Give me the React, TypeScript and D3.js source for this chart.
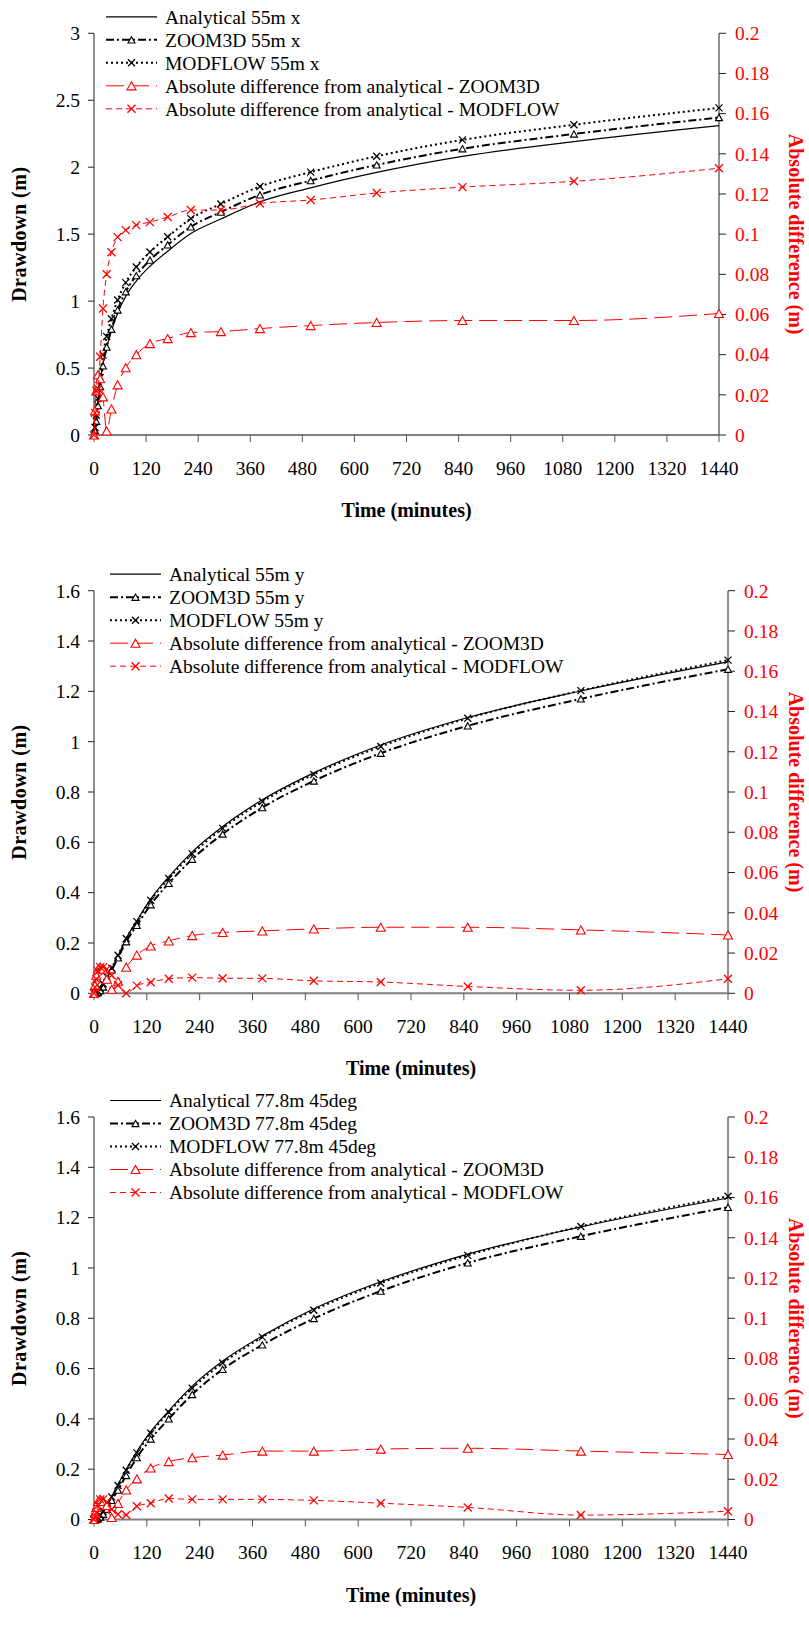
import React from "react";
import * as d3 from "d3";

const TIMES = [0, 2.29, 5.26, 9.12, 14.14, 20.67, 29.15, 40.18, 54.52, 73.16, 97.39, 128.9, 169.8, 223.1, 292.3, 382.3, 499.3, 651.3, 848.9, 1105.8, 1440];
const X_TICKS = [0, 120, 240, 360, 480, 600, 720, 840, 960, 1080, 1200, 1320, 1440];
const RIGHT_TICKS = [0, 0.02, 0.04, 0.06, 0.08, 0.1, 0.12, 0.14, 0.16, 0.18, 0.2];
const LEFT_TICKS_1 = [0, 0.5, 1, 1.5, 2, 2.5, 3];
const LEFT_TICKS_23 = [0, 0.2, 0.4, 0.6, 0.8, 1, 1.2, 1.4, 1.6];

// Chart 1: 55m x
const analytical1 = [0, 0.045, 0.125, 0.25, 0.39, 0.535, 0.655, 0.777, 0.909, 1.036, 1.15, 1.26, 1.372, 1.504, 1.613, 1.741, 1.846, 1.961, 2.081, 2.191, 2.31];
const zoom1 = [0, 0.033, 0.103, 0.22, 0.362, 0.516, 0.657, 0.79, 0.934, 1.07, 1.19, 1.306, 1.42, 1.555, 1.665, 1.794, 1.9, 2.017, 2.138, 2.248, 2.371];
const modflow1 = [0, 0.056, 0.147, 0.273, 0.429, 0.598, 0.735, 0.868, 1.008, 1.138, 1.255, 1.367, 1.48, 1.616, 1.725, 1.856, 1.963, 2.082, 2.204, 2.317, 2.443];
const diffZ1 = [0, 0.012, 0.022, 0.03, 0.028, 0.019, 0.002, 0.013, 0.025, 0.0335, 0.04, 0.0455, 0.048, 0.051, 0.0515, 0.053, 0.0545, 0.056, 0.057, 0.057, 0.0605];
const diffM1 = [0, 0.011, 0.022, 0.023, 0.039, 0.063, 0.08, 0.091, 0.0985, 0.102, 0.1045, 0.106, 0.1085, 0.112, 0.112, 0.1153, 0.117, 0.1205, 0.1234, 0.1263, 0.1328];

// Chart 2: 55m y
const analytical2 = [0, 0.001, 0.004, 0.012, 0.026, 0.044, 0.064, 0.093, 0.147, 0.218, 0.289, 0.3755, 0.463, 0.562, 0.663, 0.769, 0.876, 0.987, 1.096, 1.2015, 1.317];
const zoom2 = [0, 0, 0.001, 0.003, 0.011, 0.025, 0.055, 0.093, 0.141, 0.205, 0.27, 0.352, 0.437, 0.533, 0.633, 0.738, 0.844, 0.954, 1.063, 1.17, 1.288];
const modflow2 = [0, 0.001, 0.003, 0.008, 0.02, 0.038, 0.066, 0.1, 0.151, 0.218, 0.285, 0.37, 0.456, 0.554, 0.6555, 0.762, 0.87, 0.981, 1.093, 1.203, 1.324];
const diffZ2 = [0, 0.004, 0.009, 0.012, 0.013, 0.012, 0.007, 0.002, 0.006, 0.013, 0.019, 0.0235, 0.026, 0.0287, 0.0302, 0.031, 0.032, 0.0328, 0.0328, 0.0315, 0.029];
const diffM2 = [0, 0.003, 0.007, 0.011, 0.013, 0.013, 0.012, 0.009, 0.004, 0, 0.0038, 0.0055, 0.0072, 0.0078, 0.0075, 0.0074, 0.0062, 0.0056, 0.0034, 0.0015, 0.0072];

// Chart 3: 77.8m 45deg
const analytical3 = [0, 0.001, 0.004, 0.01, 0.02, 0.034, 0.058, 0.092, 0.14, 0.2, 0.27, 0.35, 0.432, 0.53, 0.63, 0.73, 0.838, 0.945, 1.055, 1.163, 1.278];
const zoom3 = [0, 0, 0.001, 0.003, 0.01, 0.021, 0.041, 0.076, 0.117, 0.175, 0.246, 0.32, 0.4, 0.497, 0.597, 0.694, 0.799, 0.908, 1.02, 1.126, 1.241];
const modflow3 = [0, 0.001, 0.003, 0.007, 0.017, 0.032, 0.055, 0.09, 0.135, 0.196, 0.265, 0.343, 0.426, 0.522, 0.622, 0.725, 0.832, 0.94, 1.05, 1.165, 1.285];
const diffZ3 = [0, 0.003, 0.006, 0.009, 0.01, 0.009, 0.007, 0.001, 0.008, 0.0147, 0.0202, 0.0256, 0.0288, 0.0307, 0.032, 0.034, 0.034, 0.035, 0.0354, 0.034, 0.0323];
const diffM3 = [0, 0.0014, 0.0035, 0.007, 0.01, 0.01, 0.0086, 0.005, 0.0026, 0.0022, 0.0066, 0.0081, 0.0104, 0.01, 0.01, 0.01, 0.0095, 0.0081, 0.006, 0.0022, 0.0041];

const LABELS_1 = ["Analytical 55m x", "ZOOM3D 55m x", "MODFLOW 55m x"];
const LABELS_2 = ["Analytical 55m y", "ZOOM3D 55m y", "MODFLOW 55m y"];
const LABELS_3 = ["Analytical 77.8m 45deg", "ZOOM3D 77.8m 45deg", "MODFLOW 77.8m 45deg"];
const DIFF_LABELS = ["Absolute difference from analytical - ZOOM3D", "Absolute difference from analytical - MODFLOW"];

const FONT = "'Liberation Serif', 'Times New Roman', serif";

type Style = { color: string; dash: string | null; width: number; marker: "none" | "tri" | "x"; msize: number };
const STYLES: Style[] = [
  { color: "#000", dash: null, width: 1.2, marker: "none", msize: 0 },
  { color: "#000", dash: "8,3,2,3", width: 2, marker: "tri", msize: 7 },
  { color: "#000", dash: "2,3", width: 2, marker: "x", msize: 7 },
  { color: "#ff0000", dash: "18,7", width: 1, marker: "tri", msize: 9 },
  { color: "#ff0000", dash: "6,4", width: 1, marker: "x", msize: 8 },
];

function Marker({ kind, x, y, size, color }: { kind: string; x: number; y: number; size: number; color: string }) {
  if (kind === "tri") {
    const h = size * 0.9;
    const d = `M${x},${y - h / 2}L${x + size / 2},${y + h / 2}L${x - size / 2},${y + h / 2}Z`;
    return <path d={d} fill="#fff" stroke={color} strokeWidth={1.1} />;
  }
  if (kind === "x") {
    const s = size / 2;
    return (
      <path d={`M${x - s},${y - s}L${x + s},${y + s}M${x - s},${y + s}L${x + s},${y - s}`} stroke={color} strokeWidth={1.3} fill="none" />
    );
  }
  return null;
}

type ChartProps = {
  top: number; bottom: number; left: number; right: number; legendX: number;
  leftMax: number; leftTicks: number[]; labels: string[]; series: number[][];
};

function Chart({ top, bottom, left, right, legendX, leftMax, leftTicks, labels, series }: ChartProps) {
  const x = d3.scaleLinear().domain([0, 1440]).range([left, right]);
  const yL = d3.scaleLinear().domain([0, leftMax]).range([bottom, top]);
  const yR = d3.scaleLinear().domain([0, 0.2]).range([bottom, top]);
  const allLabels = [...labels, ...DIFF_LABELS];
  const fmt = (v: number) => String(+v.toFixed(2));
  const midY = (top + bottom) / 2;
  const midX = (left + right) / 2;

  return (
    <g fontFamily={FONT}>
      {/* left axis */}
      <line x1={left} x2={left} y1={top} y2={bottom} stroke="#222" strokeWidth={1} />
      {leftTicks.map((t) => (
        <g key={"l" + t}>
          <line x1={left - 6} x2={left} y1={yL(t)} y2={yL(t)} stroke="#222" />
          <text x={left - 14} y={yL(t)} dy="0.35em" textAnchor="end" fontSize={19.5} fill="#000">{fmt(t)}</text>
        </g>
      ))}
      {/* right axis */}
      <line x1={right} x2={right} y1={top} y2={bottom} stroke="#222" strokeWidth={1} />
      {RIGHT_TICKS.map((t) => (
        <g key={"r" + t}>
          <line x1={right} x2={right + 7} y1={yR(t)} y2={yR(t)} stroke="#222" />
          <text x={right + 16} y={yR(t)} dy="0.35em" textAnchor="start" fontSize={19.5} fill="#ff0000">{fmt(t)}</text>
        </g>
      ))}
      {/* bottom axis */}
      <line x1={left} x2={right} y1={bottom} y2={bottom} stroke="#808080" strokeWidth={2} />
      {X_TICKS.map((t) => (
        <g key={"x" + t}>
          <line x1={x(t)} x2={x(t)} y1={bottom} y2={bottom + 7} stroke="#555" />
          <text x={x(t)} y={bottom + 33} dy="0.35em" textAnchor="middle" fontSize={19.5} fill="#000">{t}</text>
        </g>
      ))}
      {/* axis titles */}
      <text transform={`translate(${left - 75},${midY}) rotate(-90)`} textAnchor="middle" dy="0.35em" fontSize={20} fontWeight="bold" letterSpacing={0.5}>Drawdown (m)</text>
      <text transform={`translate(${796},${midY}) rotate(90)`} textAnchor="middle" dy="0.35em" fontSize={20} fontWeight="bold" fill="#ff0000">Absolute difference (m)</text>
      <text x={midX} y={bottom + 75} dy="0.35em" textAnchor="middle" fontSize={20} fontWeight="bold">Time (minutes)</text>

      {/* series */}
      {series.map((vals, i) => {
        const st = STYLES[i];
        const ys = i < 3 ? yL : yR;
        const line = d3.line<number>().x((_, j) => x(TIMES[j])).y((v) => ys(v)).curve(d3.curveMonotoneX);
        return (
          <g key={"s" + i}>
            <path d={line(vals) || ""} fill="none" stroke={st.color} strokeWidth={st.width} strokeDasharray={st.dash || undefined} />
            {st.marker !== "none" && vals.map((v, j) => (
              <Marker key={j} kind={st.marker} x={x(TIMES[j])} y={ys(v)} size={st.msize} color={st.color} />
            ))}
          </g>
        );
      })}

      {/* legend */}
      {allLabels.map((lab, i) => {
        const st = STYLES[i];
        const ly = top - 16.5 + i * 23;
        const x0 = legendX;
        const x1 = legendX + 51;
        return (
          <g key={"lg" + i}>
            <line x1={x0} x2={x1} y1={ly} y2={ly} stroke={st.color} strokeWidth={st.width} strokeDasharray={st.dash || undefined} />
            {st.marker !== "none" && <Marker kind={st.marker} x={(x0 + x1) / 2} y={ly} size={st.msize} color={st.color} />}
            <text x={x1 + 8} y={ly} dy="0.35em" fontSize={19.5} fill="#000">{lab}</text>
          </g>
        );
      })}
    </g>
  );
}

export default function App() {
  return (
    <svg width={809} height={1637} style={{ position: "absolute", left: 0, top: 0, background: "#fff" }}>
      <rect x={0} y={0} width={809} height={1637} fill="#fff" />
      <Chart top={33.3} bottom={435} left={94} right={719} legendX={106} leftMax={3} leftTicks={LEFT_TICKS_1}
        labels={LABELS_1} series={[analytical1, zoom1, modflow1, diffZ1, diffM1]} />
      <Chart top={590.7} bottom={993.3} left={94} right={728} legendX={110} leftMax={1.6} leftTicks={LEFT_TICKS_23}
        labels={LABELS_2} series={[analytical2, zoom2, modflow2, diffZ2, diffM2]} />
      <Chart top={1117} bottom={1519.5} left={94} right={728} legendX={110} leftMax={1.6} leftTicks={LEFT_TICKS_23}
        labels={LABELS_3} series={[analytical3, zoom3, modflow3, diffZ3, diffM3]} />
    </svg>
  );
}
